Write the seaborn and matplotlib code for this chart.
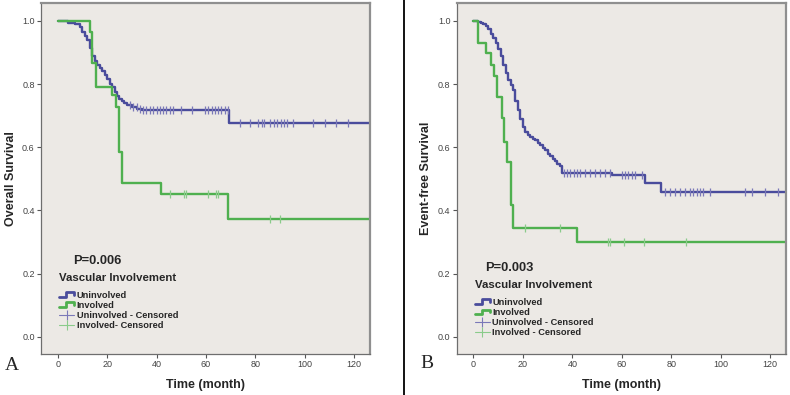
import numpy as np
import pandas as pd
import seaborn as sns
import matplotlib.pyplot as plt
from matplotlib.lines import Line2D
from matplotlib.legend_handler import HandlerBase

# Kaplan-Meier steps: event times (months) and survival after each drop
# Panel A - overall survival
os_unv_t = [4, 7, 9, 10, 11, 12, 13, 14, 15, 16, 17, 18, 19, 20, 21, 22, 23, 24, 25, 26, 27, 28, 30, 32, 34, 69.5]
os_unv_s = [0.995, 0.99, 0.98, 0.965, 0.952, 0.94, 0.915, 0.89, 0.872, 0.862, 0.85, 0.84, 0.83, 0.815,
            0.80, 0.79, 0.775, 0.762, 0.752, 0.745, 0.74, 0.735, 0.728, 0.72, 0.717, 0.676]
os_unv_cens = [29.2, 30.5, 31.9, 33.2, 34.6, 35.9, 37.3, 38.6, 40, 41.3, 42.7, 44, 45.4, 46.8, 50.1, 54.2,
               59.6, 60.9, 62.3, 63.6, 65, 66.3, 67.7, 69, 73.8, 77.9, 81.2, 82.6, 83.5, 86, 87.6, 88.9,
               90.3, 91.6, 92.7, 95.4, 103.5, 108.2, 112.7, 117.7]
os_inv_t = [13, 14, 15.5, 22, 23.5, 25, 26, 42, 69]
os_inv_s = [0.966, 0.866, 0.792, 0.766, 0.726, 0.586, 0.486, 0.452, 0.372]
os_inv_cens = [45.5, 51, 52, 61, 64, 65, 86, 90]

# Panel B - event-free survival
efs_unv_t = [2, 3, 4, 5, 6, 7, 8, 9, 10, 11, 12, 13, 14, 15, 16, 17, 18, 19, 20, 21, 22, 23, 24, 25,
             26, 27, 28, 29, 30, 31, 32, 33, 34, 35, 36, 56, 69.5, 76]
efs_unv_s = [0.998, 0.995, 0.99, 0.985, 0.975, 0.96, 0.945, 0.93, 0.91, 0.89, 0.86, 0.835, 0.812, 0.798,
             0.78, 0.745, 0.718, 0.69, 0.665, 0.649, 0.638, 0.632, 0.627, 0.622, 0.615, 0.607, 0.598,
             0.59, 0.58, 0.572, 0.563, 0.555, 0.548, 0.54, 0.518, 0.512, 0.486, 0.459]
efs_unv_cens = [36.5, 37.8, 39.2, 40.5, 41.9, 43.2, 45.2, 47.3, 49.3, 51.3, 53.3, 55.4, 60, 61.4, 62.7,
                64.1, 65.4, 68.1, 77.6, 79.6, 81.6, 83.6, 85.7, 87.7, 89, 90.4, 91.7, 93.1, 95.8,
                109.9, 112.6, 118, 123.4]
efs_inv_t = [2, 5, 7, 8.5, 9.5, 11.5, 12.5, 13.5, 15, 16, 42]
efs_inv_s = [0.931, 0.898, 0.861, 0.826, 0.760, 0.692, 0.618, 0.554, 0.417, 0.343, 0.301]
efs_inv_cens = [21, 35, 54.5, 55.3, 61, 69, 86]

groups = ['Uninvolved', 'Involved']
p_values = ['P=0.006', 'P=0.003']
ylabels = ['Overall Survival', 'Event-free Survival']
panel_tags = ['A', 'B']

BLUE = '#4a4c9c'
GREEN = '#4fb04f'
BLUE_C = '#7a78b8'
GREEN_C = '#8acb8a'
T_END = 126.5


def km_frame(t, s):
    x = [0] + list(t) + [T_END]
    y = [1.0] + list(s) + [s[-1]]
    return pd.DataFrame({'time': x, 'surv': y})


def surv_at(t, s, c):
    c = np.asarray(c)
    idx = np.searchsorted(np.asarray(t), c, side='right') - 1
    vals = np.concatenate([[1.0], s])
    return vals[idx + 1]


class StepHandler(HandlerBase):
    # little step-shaped icon like the SPSS legend
    def create_artists(self, legend, orig, xd, yd, w, h, fontsize, trans):
        xs = np.array([0, 0.45, 0.45, 1.0, 1.0]) * w - xd
        ys = np.array([0.15, 0.15, 0.85, 0.85, 0.45]) * h - yd
        ln = Line2D(xs, ys, color=orig.get_color(), lw=2.0, transform=trans)
        return [ln]


sns.set_style('white')
plt.rcParams['font.family'] = ['Liberation Sans', 'DejaVu Sans']

fig = plt.figure(figsize=(7.9, 3.95), dpi=100)
ax1 = fig.add_axes([41 / 790, 1 - 354 / 395, 329 / 790, 351 / 395])
ax2 = fig.add_axes([456.7 / 790, 1 - 354 / 395, 329.3 / 790, 351 / 395])

panels = [
    (ax1, [(os_unv_t, os_unv_s, os_unv_cens), (os_inv_t, os_inv_s, os_inv_cens)]),
    (ax2, [(efs_unv_t, efs_unv_s, efs_unv_cens), (efs_inv_t, efs_inv_s, efs_inv_cens)]),
]

for i, (ax, series) in enumerate(panels):
    ax.set_facecolor('#ece9e5')
    for (t, s, c), col, ccol in zip(series, [BLUE, GREEN], [BLUE_C, GREEN_C]):
        df = km_frame(t, s)
        sns.lineplot(data=df, x='time', y='surv', ax=ax, color=col, lw=1.7,
                     drawstyle='steps-post', estimator=None, legend=False)
        cdf = pd.DataFrame({'time': c, 'surv': surv_at(t, s, c)})
        sns.scatterplot(data=cdf, x='time', y='surv', ax=ax, marker='|', s=28,
                        color=ccol, linewidth=0.9, legend=False, zorder=3)
    ax.set_xlim(-6.8, T_END)
    ax.set_ylim(-0.055, 1.057)
    ax.set_xticks(np.arange(0, 121, 20))
    ax.set_yticks(np.arange(0, 1.01, 0.2))
    ax.set_yticklabels([f'{v:.1f}' for v in np.arange(0, 1.01, 0.2)])
    ax.tick_params(direction='out', length=3, width=0.8, color='#555555',
                   labelsize=6.5, labelcolor='#444444', left=True, bottom=True, pad=1.5)
    for side in ['left', 'bottom']:
        ax.spines[side].set_color('#6e6e6e')
        ax.spines[side].set_linewidth(0.9)
    for side in ['top', 'right']:
        ax.spines[side].set_color('#8f8f8f')
        ax.spines[side].set_linewidth(1.6)
    ax.set_xlabel('Time (month)', fontsize=9, fontweight='bold', labelpad=7)
    ax.set_ylabel(ylabels[i], fontsize=9, fontweight='bold', labelpad=4)

    handles = [
        Line2D([], [], color=BLUE),
        Line2D([], [], color=GREEN),
        Line2D([], [], color=BLUE_C, lw=0.8, marker='|', ms=7, mew=0.8),
        Line2D([], [], color=GREEN_C, lw=0.8, marker='|', ms=7, mew=0.8),
    ]
    labels = ['Uninvolved', 'Involved', 'Uninvolved - Censored',
              'Involved- Censored' if i == 0 else 'Involved - Censored']
    anchor = (0.055, 0.232) if i == 0 else (0.055, 0.212)
    leg = ax.legend(handles, labels, title='Vascular Involvement', loc='upper left',
                    bbox_to_anchor=anchor, frameon=False, alignment='left',
                    prop={'weight': 'bold', 'size': 6.7}, handlelength=1.6,
                    handletextpad=0.3, labelspacing=0.12, borderpad=0, borderaxespad=0,
                    handler_map={handles[0]: StepHandler(), handles[1]: StepHandler()})
    leg.get_title().set_fontsize(8.2)
    leg.get_title().set_fontweight('bold')
    leg._legend_box.sep = 6

    py = 0.265 if i == 0 else 0.245
    ax.text(0.097 if i == 0 else 0.086, py, p_values[i], transform=ax.transAxes,
            fontsize=9.3, fontweight='bold', va='center', ha='left')

fig.text(5 / 790, 1 - 365 / 395, panel_tags[0], fontsize=14, family='Liberation Serif',
         va='center', ha='left')
fig.text(420 / 790, 1 - 363 / 395, panel_tags[1], fontsize=14, family='Liberation Serif',
         va='center', ha='left')
fig.add_artist(Line2D([404 / 790, 404 / 790], [0, 1], color='black', lw=1.3,
                      transform=fig.transFigure))

fig.savefig('out.png', dpi=100)
